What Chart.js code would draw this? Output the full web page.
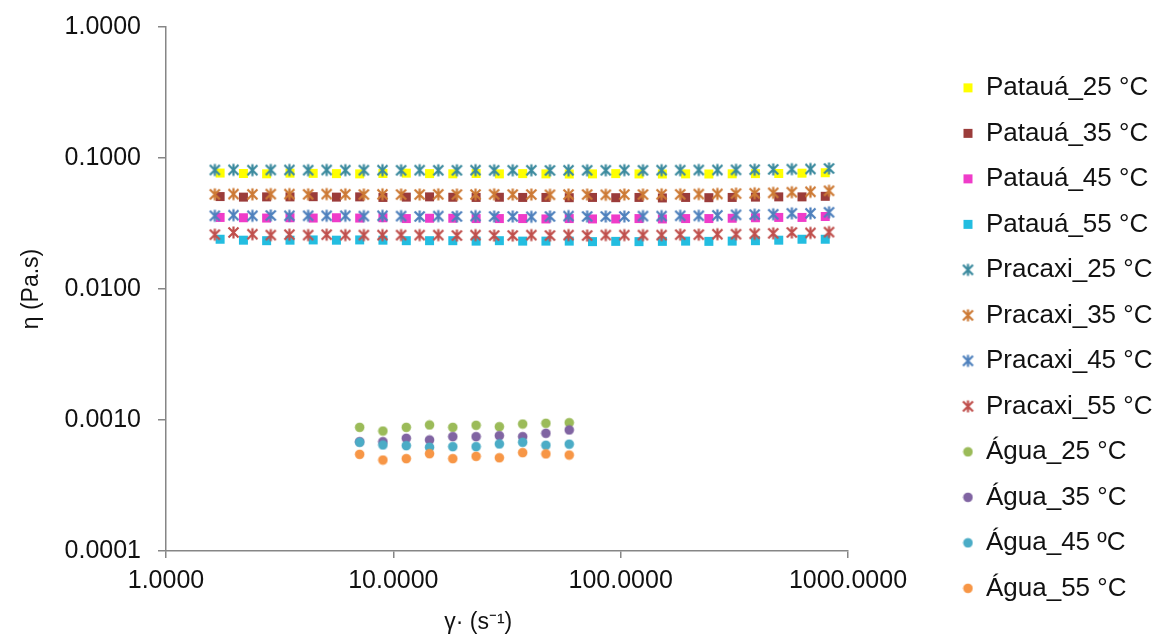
<!DOCTYPE html>
<html><head><meta charset="utf-8">
<script src="https://cdn.jsdelivr.net/npm/chart.js@4.4.0/dist/chart.umd.min.js"></script>
<style>html,body{margin:0;padding:0;background:#fff;}</style>
</head><body>
<canvas id="c" width="1157" height="636"></canvas>
<script>
// ---- data ----
const seriesNames = ['Patauá_25 °C', 'Patauá_35 °C', 'Patauá_45 °C', 'Patauá_55 °C',
  'Pracaxi_25 °C', 'Pracaxi_35 °C', 'Pracaxi_45 °C', 'Pracaxi_55 °C',
  'Água_25 °C', 'Água_35 °C', 'Água_45 ºC', 'Água_55 °C'];
const xTickValues = [1, 10, 100, 1000];
const yTickValues = [0.0001, 0.001, 0.01, 0.1, 1];

const shearPataua = [1.73, 2.19, 2.77, 3.51, 4.44, 5.62, 7.11, 9.00, 11.40, 14.43, 18.26, 23.12, 29.27, 37.05, 46.91, 59.38, 75.16, 95.15, 120.4, 152.5, 193.0, 244.3, 309.4, 391.6, 495.8, 627.6, 794.3];
const shearPracaxi = [1.64, 1.98, 2.40, 2.89, 3.49, 4.22, 5.09, 6.15, 7.42, 8.96, 10.82, 13.06, 15.77, 19.04, 22.99, 27.76, 33.51, 40.46, 48.86, 58.99, 71.22, 86.00, 103.8, 125.4, 151.4, 182.8, 220.7, 266.5, 321.7, 388.5, 469.0, 566.3, 683.8, 825.6];
const shearAgua = [7.11, 9.00, 11.40, 14.43, 18.26, 23.12, 29.27, 37.05, 46.91, 59.38];

const pataua25 = [0.0768,0.0762,0.0758,0.0766,0.0764,0.0760,0.0757,0.0762,0.0766,0.0760,0.0758,0.0762,0.0757,0.0760,0.0757,0.0755,0.0757,0.0760,0.0756,0.0755,0.0757,0.0755,0.0758,0.0760,0.0762,0.0766,0.0772];
const pataua35 = [0.0508,0.0503,0.0505,0.0505,0.0507,0.0503,0.0505,0.0500,0.0503,0.0505,0.0502,0.0500,0.0502,0.0500,0.0500,0.0498,0.0500,0.0498,0.0500,0.0496,0.0500,0.0498,0.0500,0.0503,0.0505,0.0505,0.0510];
const pataua45 = [0.0352,0.0350,0.0348,0.0350,0.0348,0.0350,0.0348,0.0350,0.0345,0.0347,0.0347,0.0345,0.0345,0.0345,0.0343,0.0345,0.0343,0.0343,0.0345,0.0343,0.0345,0.0345,0.0347,0.0350,0.0352,0.0352,0.0358];
const pataua55 = [0.0240,0.0236,0.0234,0.0236,0.0237,0.0236,0.0237,0.0236,0.0234,0.0234,0.0234,0.0232,0.0234,0.0232,0.0232,0.0232,0.0230,0.0231,0.0230,0.0231,0.0232,0.0231,0.0232,0.0234,0.0236,0.0240,0.0240];

const pracaxi25 = [0.0810,0.0812,0.0808,0.0810,0.0810,0.0808,0.0810,0.0808,0.0808,0.0808,0.0806,0.0808,0.0806,0.0806,0.0808,0.0806,0.0806,0.0806,0.0804,0.0806,0.0806,0.0806,0.0808,0.0806,0.0808,0.0808,0.0810,0.0810,0.0812,0.0815,0.0818,0.0822,0.0825,0.0832];
const pracaxi35 = [0.0528,0.0530,0.0528,0.0530,0.0530,0.0528,0.0530,0.0528,0.0526,0.0528,0.0526,0.0526,0.0528,0.0526,0.0526,0.0528,0.0526,0.0526,0.0524,0.0526,0.0526,0.0524,0.0526,0.0526,0.0528,0.0528,0.0530,0.0532,0.0535,0.0538,0.0542,0.0548,0.0552,0.0562];
const pracaxi45 = [0.0362,0.0366,0.0362,0.0364,0.0362,0.0362,0.0362,0.0362,0.0360,0.0362,0.0360,0.0358,0.0360,0.0358,0.0360,0.0358,0.0358,0.0356,0.0358,0.0360,0.0358,0.0358,0.0358,0.0360,0.0360,0.0362,0.0362,0.0365,0.0368,0.0370,0.0372,0.0378,0.0378,0.0385];
const pracaxi55 = [0.0260,0.0270,0.0262,0.0258,0.0260,0.0258,0.0260,0.0258,0.0258,0.0258,0.0258,0.0258,0.0258,0.0256,0.0258,0.0256,0.0256,0.0258,0.0256,0.0258,0.0256,0.0258,0.0258,0.0258,0.0258,0.0260,0.0260,0.0262,0.0262,0.0264,0.0266,0.0270,0.0268,0.0272];

const agua25 = [0.000879, 0.000824, 0.000879, 0.000916, 0.000879, 0.000911, 0.000889, 0.000932, 0.000944, 0.000953];
const agua35 = [0.000683, 0.000683, 0.000725, 0.000704, 0.000746, 0.000746, 0.000759, 0.000746, 0.000792, 0.000839];
const agua45 = [0.000676, 0.000645, 0.000637, 0.000619, 0.000626, 0.000626, 0.000656, 0.000676, 0.000642, 0.000654];
const agua55 = [0.000547, 0.000495, 0.000507, 0.000553, 0.000507, 0.000528, 0.000515, 0.000563, 0.000551, 0.000540];

// ---- styles ----
const FONT = "'Liberation Sans', Arial, sans-serif";
const AXIS = '#868686';
const colors = ['#FFFF00', '#9B3C3A', '#EF3CC9', '#23BDE0', '#3B8A9E', '#CD7A35', '#4F81BD', '#C0504D', '#9BBB59', '#8064A2', '#4BACC6', '#F79646'];
const shapes = ['square','square','square','square','star','star','star','star','circle','circle','circle','circle'];

function marker(shape, color) {
  const size = shape === 'star' ? 15 : 11;
  const cv = document.createElement('canvas');
  cv.width = size; cv.height = size;
  const g = cv.getContext('2d');
  const c = size / 2;
  if (shape === 'square') {
    g.fillStyle = color; g.fillRect(1, 1, 9, 9);
  } else if (shape === 'circle') {
    g.fillStyle = color; g.beginPath(); g.arc(c, c, 4.8, 0, Math.PI * 2); g.fill();
  } else {
    g.strokeStyle = color; g.lineWidth = 2.2; g.lineCap = 'butt';
    g.beginPath();
    g.moveTo(2.5, 2.5); g.lineTo(size - 2.5, size - 2.5);
    g.moveTo(size - 2.5, 2.5); g.lineTo(2.5, size - 2.5);
    g.moveTo(c, 1.5); g.lineTo(c, size - 1.5);
    g.stroke();
  }
  return cv;
}

const xs = [shearPataua, shearPataua, shearPataua, shearPataua, shearPracaxi, shearPracaxi, shearPracaxi, shearPracaxi, shearAgua, shearAgua, shearAgua, shearAgua];
const ys = [pataua25, pataua35, pataua45, pataua55, pracaxi25, pracaxi35, pracaxi45, pracaxi55, agua25, agua35, agua45, agua55];

const datasets = seriesNames.map((name, i) => ({
  label: name,
  data: xs[i].map((x, k) => ({x: x, y: ys[i][k]})),
  pointStyle: marker(shapes[i], colors[i]),
  pointRadius: 5,
  pointHoverRadius: 5,
  backgroundColor: colors[i],
  borderColor: colors[i],
  showLine: false,
  order: -i
}));

new Chart(document.getElementById('c'), {
  type: 'scatter',
  data: { datasets },
  options: {
    responsive: false,
    animation: false,
    layout: { padding: { left: 0, top: 0, right: -5.45, bottom: 0 } },
    plugins: {
      tooltip: { enabled: false },
      legend: {
        position: 'right',
        maxWidth: 400,
        title: { display: true, text: '', font: { size: 1 }, padding: { top: 0, bottom: 39 } },
        labels: {
          usePointStyle: true,
          boxWidth: 10, boxHeight: 8,
          padding: 19.5,
          color: '#111',
          font: { family: FONT, size: 26 },
          sort: (a, b) => a.datasetIndex - b.datasetIndex
        }
      }
    },
    scales: {
      x: {
        type: 'logarithmic',
        position: 'bottom',
        min: 1, max: 1000,
        afterBuildTicks: s => { s.ticks = xTickValues.map(v => ({ value: v })); },
        afterFit: s => { s.height = 85; },
        ticks: { color: '#111', font: { family: FONT, size: 25 }, padding: 8, maxRotation: 0, autoSkip: false,
          callback: v => Number(v).toFixed(4) },
        grid: { drawOnChartArea: false, drawTicks: true, tickLength: 7, color: AXIS, lineWidth: 1.5 },
        border: { display: true, color: AXIS, width: 1.5 },
        title: { display: true, text: 'γ· (s⁻¹)\u00A0\u00A0\u00A0\u00A0\u00A0\u00A0\u00A0\u00A0\u00A0', color: '#111',
          font: { family: FONT, size: 23 }, padding: { top: 0, bottom: 0 } }
      },
      y: {
        type: 'logarithmic',
        position: 'left',
        min: 0.0001, max: 1,
        afterBuildTicks: s => { s.ticks = yTickValues.map(v => ({ value: v })); },
        afterFit: s => { s.width = 166; s.paddingTop = 27; s.paddingBottom = 0; },
        ticks: { color: '#111', font: { family: FONT, size: 25 }, padding: 17, autoSkip: false,
          callback: v => Number(v).toFixed(4) },
        grid: { drawOnChartArea: false, drawTicks: true, tickLength: 8, color: AXIS, lineWidth: 1.5 },
        border: { display: true, color: AXIS, width: 1.5 },
        title: { display: true, text: 'η (Pa.s)', color: '#111', font: { family: FONT, size: 23 }, padding: { top: 18, bottom: 0 } }
      },
      gap: {
        type: 'linear',
        position: 'right',
        display: true,
        afterFit: s => { s.width = 95.5; },
        ticks: { display: false },
        grid: { display: false, drawTicks: false },
        border: { display: false }
      }
    }
  }
});
</script>
</body></html>
